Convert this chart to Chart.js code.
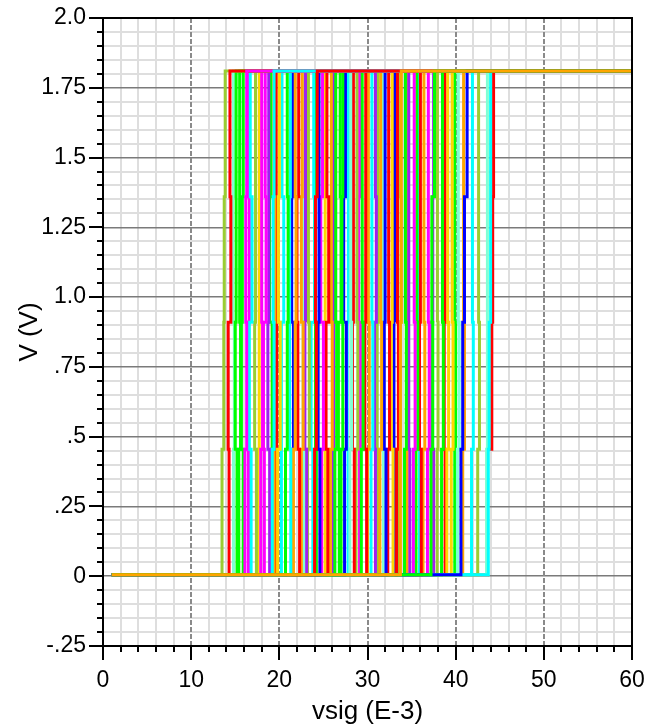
<!DOCTYPE html>
<html><head><meta charset="utf-8">
<script src="https://cdn.jsdelivr.net/npm/chart.js@4.4.1/dist/chart.umd.min.js"></script>
<style>html,body{margin:0;padding:0;background:#fff;overflow:hidden}#wrap{width:646px;height:727px;position:relative}</style>
</head><body><div id="wrap"><canvas id="c" width="646" height="727"></canvas></div>
<script>
// ---------- data ----------
const levels = [0.005, 0.455, 0.91, 1.36, 1.81];   // output staircase levels (V)
const sweepStart = 1;                               // vsig (E-3)
const sweepEnd = 60;
const xMajorTicks = [0, 10, 20, 30, 40, 50, 60];
const xTickLabels = ['0', '10', '20', '30', '40', '50', '60'];
const yMajorTicks = [-0.25, 0, 0.25, 0.5, 0.75, 1.0, 1.25, 1.5, 1.75, 2.0];
const yTickLabels = ['-.25', '0', '.25', '.5', '.75', '1.0', '1.25', '1.5', '1.75', '2.0'];
const xMinorStep = 2;
const yMinorStep = 0.05;
// Monte-Carlo traces, top-most first: colour key and the vsig value of each of the 4 steps
const traceColorKeys = [
  'O','G','R','B','C','C','M','R','YG','G',
  'G','G','C','YG','M','M','P','G','O','Y',
  'C','G','C','O','R','O','P','YG','C','B',
  'M','R','O','G','G','G','B','A','R','YG',
  'G','R','O','C','P','O','B','R','Y','R',
  'YG','G','P','M','G','R','O','M','P','G',
  'Y','Y','A','O','C','YG','A','R','A','M',
  'Y','R','B','A','G','Y','P','C','M','YG',
  'A','B','O','C','YG','R','G'];
const traceSteps = [
  [33.7, 33.75, 33.8, 33.85],
  [37.2, 37.4, 37.3, 37.6],
  [24.0, 24.2, 24.1, 24.3],
  [40.6, 40.8, 41.0, 41.3],
  [19.2, 19.4, 19.3, 19.4],
  [43.7, 43.8, 43.9, 44.0],
  [16.1, 16.3, 16.2, 16.3],
  [14.3, 14.2, 14.5, 14.4],
  [13.5, 13.7, 13.75, 13.86],
  [15.2, 15.0, 15.1, 15.1],
  [15.4, 15.6, 15.5, 15.5],
  [15.9, 15.7, 15.8, 15.9],
  [16.8, 16.6, 16.9, 16.7],
  [17.4, 17.2, 17.3, 17.3],
  [17.9, 18.1, 18.0, 18.0],
  [18.3, 18.2, 18.5, 18.4],
  [18.9, 18.7, 18.8, 18.8],
  [19.1, 19.2, 18.9, 19.0],
  [19.4, 19.2, 19.5, 19.3],
  [19.8, 20.1, 19.9, 20.0],
  [20.3, 20.2, 20.5, 20.3],
  [20.7, 20.9, 21.0, 20.9],
  [21.3, 21.1, 21.2, 21.25],
  [21.6, 21.8, 21.9, 21.8],
  [22.3, 22.1, 22.0, 22.2],
  [22.5, 22.7, 22.5, 22.6],
  [23.1, 22.9, 23.0, 22.95],
  [23.2, 23.4, 23.3, 23.3],
  [23.8, 23.6, 24.0, 23.9],
  [24.6, 24.4, 24.5, 24.5],
  [24.8, 25.0, 24.7, 24.9],
  [25.5, 25.3, 25.6, 25.4],
  [25.8, 26.0, 25.9, 25.9],
  [26.3, 26.5, 26.4, 26.4],
  [26.8, 26.7, 27.0, 26.9],
  [27.0, 27.2, 27.1, 27.2],
  [27.4, 27.6, 27.3, 27.5],
  [28.0, 28.2, 28.1, 28.1],
  [28.5, 28.3, 28.4, 28.4],
  [28.7, 28.9, 28.8, 28.8],
  [29.3, 29.5, 29.4, 29.4],
  [29.9, 29.7, 29.8, 29.8],
  [30.0, 30.2, 30.1, 30.1],
  [30.4, 30.6, 30.5, 30.5],
  [30.9, 30.8, 31.0, 30.9],
  [31.4, 31.6, 31.5, 31.5],
  [32.1, 31.9, 32.0, 32.0],
  [32.3, 32.5, 32.4, 32.4],
  [32.9, 32.7, 32.8, 32.8],
  [33.3, 33.5, 33.4, 33.4],
  [33.6, 33.7, 33.8, 33.75],
  [34.2, 34.4, 34.3, 34.3],
  [34.8, 34.6, 34.7, 34.7],
  [35.2, 35.4, 35.3, 35.3],
  [35.5, 35.7, 35.6, 35.6],
  [36.1, 35.9, 36.0, 36.0],
  [36.3, 36.5, 36.4, 36.4],
  [36.8, 37.0, 36.9, 36.9],
  [37.5, 37.3, 37.4, 37.5],
  [38.4, 38.6, 38.5, 38.5],
  [39.0, 39.2, 39.1, 39.1],
  [39.5, 39.7, 39.6, 39.6],
  [40.2, 40.4, 40.3, 40.3],
  [40.8, 41.0, 40.9, 40.9],
  [41.8, 42.0, 41.9, 41.9],
  [42.5, 42.7, 42.6, 42.6],
  [43.5, 43.6, 43.6, 43.6],
  [43.6, 44.1, 44.2, 44.3],
  [14.8, 14.9, 14.7, 14.8],
  [16.5, 16.4, 16.6, 16.5],
  [17.6, 17.8, 17.7, 17.7],
  [19.6, 19.7, 19.6, 19.65],
  [21.5, 21.6, 21.4, 21.5],
  [22.8, 22.7, 22.8, 22.8],
  [24.2, 24.1, 24.0, 24.1],
  [25.2, 25.1, 25.2, 25.2],
  [26.1, 26.2, 26.1, 26.15],
  [27.8, 27.7, 27.9, 27.8],
  [29.1, 29.2, 29.0, 29.1],
  [31.2, 31.1, 31.2, 31.2],
  [31.8, 31.7, 31.8, 31.75],
  [33.1, 33.0, 33.1, 33.05],
  [34.5, 34.6, 34.5, 34.5],
  [35.9, 35.8, 35.9, 35.85],
  [37.9, 38.0, 37.9, 37.95],
  [38.8, 38.7, 38.8, 38.8],
  [39.9, 40.0, 39.9, 39.9]
];
const palette = { R:'#ff0000', G:'#00ff00', B:'#0000ff', C:'#00ffff', M:'#ff00ff', P:'#a020f0',
                  O:'#ffa500', Y:'#ffd700', YG:'#9acd32', A:'#7fffd4' };

// ---------- build staircase datasets ----------
function stairs(steps) {
  const pts = [{x: sweepStart, y: levels[0]}];
  steps.forEach((s, i) => { pts.push({x: s, y: levels[i]}); pts.push({x: s, y: levels[i + 1]}); });
  pts.push({x: sweepEnd, y: levels[levels.length - 1]});
  return pts;
}
const datasets = traceSteps.map((st, i) => ({
  data: stairs(st),
  borderColor: palette[traceColorKeys[i]],
  borderWidth: 3,
  pointRadius: 0,
  tension: 0,
  fill: false,
  borderCapStyle: 'butt',
  borderJoinStyle: 'miter'
}));

const near = (a, b) => Math.abs(a - b) < 1e-6;
const isXMajor = v => xMajorTicks.some(m => near(m, v));
const isYMajor = v => yMajorTicks.some(m => near(m, v));
const FONT = 'Liberation Sans, Arial, sans-serif';

const cadencePlugin = {
  id: 'cadence',
  beforeDatasetsDraw(chart) {
    const {ctx, chartArea: a, scales: {x}} = chart;
    ctx.save();
    ctx.strokeStyle = '#8a8a8a';
    ctx.lineWidth = 2;
    ctx.setLineDash([5, 2]);
    xMajorTicks.forEach(v => {
      const px = Math.round(x.getPixelForValue(v));
      ctx.beginPath(); ctx.moveTo(px, a.top); ctx.lineTo(px, a.bottom); ctx.stroke();
    });
    ctx.restore();
  },
  afterDraw(chart) {
    const {ctx, chartArea: a, scales: {x, y}} = chart;
    ctx.save();
    ctx.strokeStyle = '#000';
    ctx.lineWidth = 2;
    ctx.strokeRect(a.left, a.top, a.right - a.left, a.bottom - a.top);
    x.ticks.forEach(t => {
      const px = Math.round(x.getPixelForValue(t.value));
      const len = isXMajor(t.value) ? 14 : 6;
      ctx.beginPath(); ctx.moveTo(px, a.bottom); ctx.lineTo(px, a.bottom + len); ctx.stroke();
    });
    y.ticks.forEach(t => {
      const py = Math.round(y.getPixelForValue(t.value));
      const len = isYMajor(t.value) ? 14 : 6;
      ctx.beginPath(); ctx.moveTo(a.left, py); ctx.lineTo(a.left - len, py); ctx.stroke();
    });
    ctx.restore();
  }
};

new Chart(document.getElementById('c'), {
  type: 'line',
  data: { datasets },
  plugins: [cadencePlugin],
  options: {
    responsive: false,
    animation: false,
    devicePixelRatio: 1,
    layout: { padding: { top: 18, right: 14, left: 0, bottom: 0 } },
    plugins: { legend: { display: false }, tooltip: { enabled: false } },
    scales: {
      x: {
        type: 'linear', min: 0, max: 60,
        afterBuildTicks: s => {
          const t = []; for (let v = 0; v <= 60 + 1e-9; v += xMinorStep) t.push({value: Math.round(v * 100) / 100});
          s.ticks = t;
        },
        afterFit: s => { s.height = 81; },
        ticks: {
          autoSkip: false, maxRotation: 0, padding: 1, color: '#000',
          font: { family: FONT, size: 23 },
          callback: v => { const i = xMajorTicks.findIndex(m => near(m, v)); return i >= 0 ? xTickLabels[i] : ''; }
        },
        grid: {
          drawTicks: true, tickLength: 20, tickColor: 'rgba(0,0,0,0)',
          color: c => (c.tick && isXMajor(c.tick.value)) ? 'rgba(0,0,0,0)' : '#dedede',
          lineWidth: 2
        },
        border: { display: false },
        title: { display: true, text: 'vsig (E-3)', color: '#000', font: { family: FONT, size: 26 }, padding: 0 }
      },
      y: {
        type: 'linear', min: -0.25, max: 2.0,
        afterBuildTicks: s => {
          const t = []; for (let k = 0; k <= 45; k++) t.push({value: Math.round((-0.25 + k * yMinorStep) * 100) / 100});
          s.ticks = t;
        },
        afterFit: s => { s.width = 103; },
        ticks: {
          autoSkip: false, padding: 1, color: '#000',
          font: { family: FONT, size: 23 },
          callback: v => { const i = yMajorTicks.findIndex(m => near(m, v)); return i >= 0 ? yTickLabels[i] : ''; }
        },
        grid: {
          drawTicks: true, tickLength: 16, tickColor: 'rgba(0,0,0,0)',
          color: c => (c.tick && isYMajor(c.tick.value)) ? '#7a7a7a' : '#dedede',
          lineWidth: c => (c.tick && isYMajor(c.tick.value)) ? 1.5 : 2
        },
        border: { display: false },
        title: { display: true, text: 'V (V)', color: '#000', font: { family: FONT, size: 26 }, padding: { top: 14 } }
      }
    }
  }
});
</script></body></html>
